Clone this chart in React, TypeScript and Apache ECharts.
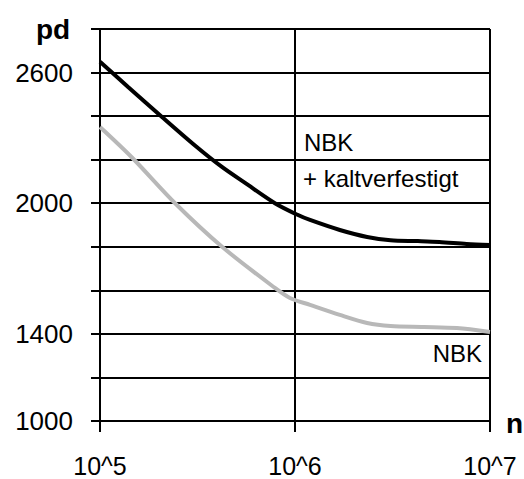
import React, { useEffect, useRef } from "react";
import * as echarts from "echarts";

// x values are decimal exponents of n (10^5 .. 10^7)
const xTickLabels = ["10^5", "10^6", "10^7"];
const yLabelValues = [1000, 1400, 2000, 2600];

const kaltExp = [5.0, 5.144, 5.318, 5.487, 5.62, 5.744, 5.897, 6.01, 6.077, 6.23, 6.37, 6.49, 6.63, 6.74, 6.88, 7.0];
const kaltPd = [2650, 2534, 2396, 2265, 2170, 2093, 2000, 1948, 1923, 1877, 1845, 1830, 1826, 1822, 1813, 1808];

const nbkExp = [5.0, 5.164, 5.385, 5.626, 5.897, 5.974, 6.077, 6.23, 6.37, 6.49, 6.66, 6.83, 7.0];
const nbkPd = [2350, 2210, 2000, 1800, 1611, 1565, 1533, 1487, 1450, 1436, 1432, 1427, 1409];

const FONT = "'Liberation Sans', Arial, sans-serif";

export default function App() {
  const ref = useRef<HTMLDivElement>(null);
  useEffect(() => {
    document.body.style.margin = "0";
    if (!ref.current) return;
    const chart = echarts.init(ref.current, undefined, { renderer: "svg" });
    const pair = (xs: number[], ys: number[]) => xs.map((x, i) => [x, ys[i]]);
    chart.setOption({
      animation: false,
      backgroundColor: "#ffffff",
      grid: { left: 100, right: 34, top: 29, bottom: 58 },
      xAxis: {
        type: "value",
        min: 5,
        max: 7,
        interval: 1,
        axisLine: { show: true, lineStyle: { color: "#000", width: 2 } },
        axisTick: { show: true, length: 11, lineStyle: { color: "#000", width: 2 } },
        splitLine: { show: true, lineStyle: { color: "#000", width: 2 } },
        axisLabel: {
          color: "#000",
          fontFamily: FONT,
          fontSize: 25,
          margin: 45,
          verticalAlign: "middle",
          formatter: (v: number) => xTickLabels[Math.round(v) - 5] ?? "",
        },
      },
      yAxis: {
        type: "value",
        min: 1000,
        max: 2800,
        interval: 200,
        axisLine: { show: true, lineStyle: { color: "#000", width: 2 } },
        axisTick: { show: true, length: 9, lineStyle: { color: "#000", width: 2 } },
        splitLine: { show: true, lineStyle: { color: "#000", width: 2 } },
        axisLabel: {
          color: "#000",
          fontFamily: FONT,
          fontSize: 26,
          margin: 27,
          formatter: (v: number) => (yLabelValues.includes(v) ? String(v) : ""),
        },
      },
      series: [
        {
          name: "NBK + kaltverfestigt",
          type: "line",
          data: pair(kaltExp, kaltPd),
          showSymbol: false,
          smooth: 0.3,
          lineStyle: { color: "#000000", width: 4 },
          z: 3,
        },
        {
          name: "NBK",
          type: "line",
          data: pair(nbkExp, nbkPd),
          showSymbol: false,
          smooth: 0.3,
          lineStyle: { color: "#b8b8b8", width: 4 },
          z: 2,
        },
      ],
      graphic: [
        {
          type: "text",
          x: 36,
          y: 29,
          style: { text: "pd", fontFamily: FONT, fontSize: 28, fontWeight: "bold", fill: "#000", verticalAlign: "middle" },
        },
        {
          type: "text",
          x: 506,
          y: 423,
          style: { text: "n", fontFamily: FONT, fontSize: 28, fontWeight: "bold", fill: "#000", verticalAlign: "middle" },
        },
        {
          type: "text",
          x: 304,
          y: 142,
          style: { text: "NBK", fontFamily: FONT, fontSize: 24, fill: "#000", verticalAlign: "middle" },
        },
        {
          type: "text",
          x: 303,
          y: 178,
          style: { text: "+ kaltverfestigt", fontFamily: FONT, fontSize: 24, fill: "#000", verticalAlign: "middle" },
        },
        {
          type: "text",
          x: 482,
          y: 353,
          style: { text: "NBK", fontFamily: FONT, fontSize: 24, fill: "#000", align: "right", verticalAlign: "middle" },
        },
      ],
    });
    return () => chart.dispose();
  }, []);
  return <div ref={ref} style={{ width: 524, height: 479 }} />;
}
